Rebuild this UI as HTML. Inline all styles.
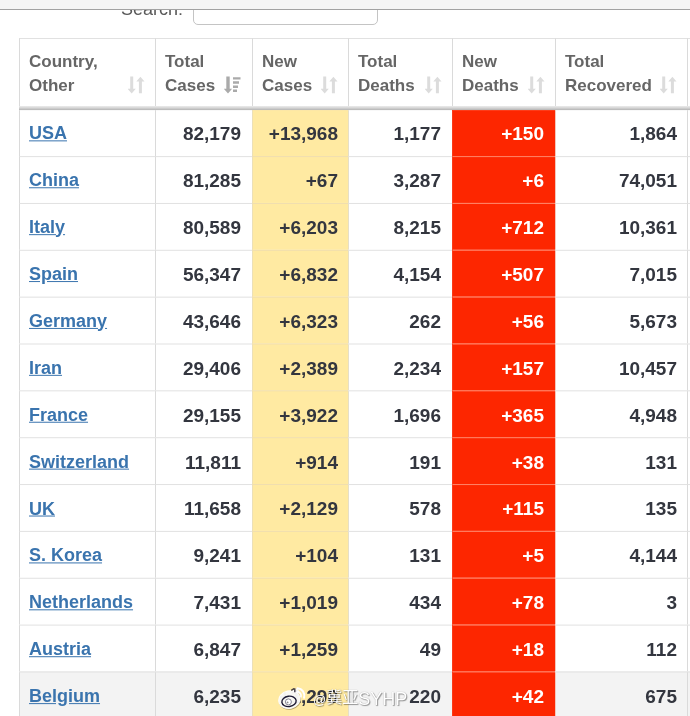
<!DOCTYPE html>
<html><head><meta charset="utf-8">
<style>
html,body{margin:0;padding:0;background:#fff;}
body{width:690px;height:716px;overflow:hidden;position:relative;font-family:"Liberation Sans","Noto Sans CJK SC",sans-serif;}
.topbar{position:absolute;left:0;top:0;width:690px;height:9px;background:#f5f5f5;border-bottom:1px solid #a2a2a2;}
.search{position:absolute;left:121px;top:-2px;font-size:18px;color:#595959;line-height:22px;}
.sbox{position:absolute;left:193px;top:-10px;width:183px;height:33px;border:1px solid #c4c4c4;border-radius:5px;background:#fff;}
table{position:absolute;left:19px;top:38px;border-collapse:separate;border-spacing:0;table-layout:fixed;width:689px;}
tbody{transform:translateY(0.25px) scaleY(0.99681);transform-origin:0 0;}
th,td{border:0 solid #dadada;border-top-color:#e1e1e1;border-width:1px 0 0 1px;box-sizing:border-box;overflow:hidden;white-space:nowrap;}
th{height:71px;text-align:left;vertical-align:top;color:#666;font-size:17px;font-weight:bold;line-height:24px;padding:11px 0 0 9px;border-bottom:none;position:relative;}
td{height:47px;font-size:19px;font-weight:bold;color:#33363f;text-align:right;padding:0 11px 0 0;}
td.l{padding-right:10px;}
td span,td a{display:inline-block;}
td.c{text-align:left;padding:0 0 0 9px;font-size:18px;}
td.c a{color:#3a74ae;text-decoration:underline;}
td.y{padding-right:10px;background:#ffeaa2;border-top-color:#f0deb0;border-left-color:#ece0b8;}
td.y+td{border-left-color:#e6dfc8;}
td.r{background:#fd2600;color:#fff;border-top-color:#ff8468;border-left-color:#fb3a18;}
td.r+td{border-left-color:#f3c6bb;}
tr.s td{height:46px;}
tr.g td{background:#f3f3f3;}
tr.g td.y{padding-right:10px;background:#ffeaa2;border-top-color:#f0deb0;border-left-color:#ece0b8;}
td.y+td{border-left-color:#e6dfc8;}
tr.g td.r{background:#fd2600;}
.si{position:absolute;right:10px;top:37px;}
.sa{right:11px;}
th span{display:inline-block;}
.hb{position:absolute;left:19px;top:106px;width:671px;height:4px;background:linear-gradient(#ebebeb,#d4d4d4 50%,#b4b4b4);}
.wbw{position:absolute;left:277px;top:686px;width:32px;height:26px;}
.wm{position:absolute;left:313px;top:687px;font-size:18px;line-height:24px;color:#fff;text-shadow:1px 1px 1px rgba(0,0,0,.38),0 0 1px rgba(0,0,0,.35);white-space:nowrap;}
.wm .a{font-size:13px;position:relative;top:-1px;}
.wm .k{font-size:16px;position:relative;top:-2px;}
</style></head><body>
<div class="search">Search:</div>
<div class="sbox"></div>
<div class="topbar"></div>
<table>
<colgroup><col style="width:136px"><col style="width:97px"><col style="width:96px"><col style="width:104px"><col style="width:103px"><col style="width:132px"><col style="width:21px"></colgroup>
<thead><tr><th><span>Country,<br>Other</span><svg class="si" width="17" height="18" viewBox="0 0 17 18"><path d="M2.2 0.5h3v12.3h2.6L3.7 17.6 -0.4 12.8h2.6z M10.9 17.3h3V5.6h2.6L12.4 0.8 8.3 5.6h2.6z" fill="#dcdcdc"/></svg></th><th><span>Total<br>Cases</span><svg class="si sa" width="17" height="18" viewBox="0 0 17 18"><path d="M2.3 0.6h3.4v12.2h2.4L4 17.6 -0.1 12.8h2.4z M9 1.2h7.5v2.4H9z M9 5.2h6v2.5H9z M9 9.5h5v2.4H9z M9 13.6h4v2.5H9z" fill="#aaa"/></svg></th><th><span>New<br>Cases</span><svg class="si" width="17" height="18" viewBox="0 0 17 18"><path d="M2.2 0.5h3v12.3h2.6L3.7 17.6 -0.4 12.8h2.6z M10.9 17.3h3V5.6h2.6L12.4 0.8 8.3 5.6h2.6z" fill="#dcdcdc"/></svg></th><th><span>Total<br>Deaths</span><svg class="si" width="17" height="18" viewBox="0 0 17 18"><path d="M2.2 0.5h3v12.3h2.6L3.7 17.6 -0.4 12.8h2.6z M10.9 17.3h3V5.6h2.6L12.4 0.8 8.3 5.6h2.6z" fill="#dcdcdc"/></svg></th><th><span>New<br>Deaths</span><svg class="si" width="17" height="18" viewBox="0 0 17 18"><path d="M2.2 0.5h3v12.3h2.6L3.7 17.6 -0.4 12.8h2.6z M10.9 17.3h3V5.6h2.6L12.4 0.8 8.3 5.6h2.6z" fill="#dcdcdc"/></svg></th><th><span>Total<br>Recovered</span><svg class="si" width="17" height="18" viewBox="0 0 17 18"><path d="M2.2 0.5h3v12.3h2.6L3.7 17.6 -0.4 12.8h2.6z M10.9 17.3h3V5.6h2.6L12.4 0.8 8.3 5.6h2.6z" fill="#dcdcdc"/></svg></th><th></th></tr></thead>
<tbody>
<tr><td class="c"><a style="transform:translateY(0.21px)">USA</a></td><td><span style="transform:translateY(0.70px)">82,179</span></td><td class="y"><span style="transform:translateY(0.70px)">+13,968</span></td><td><span style="transform:translateY(0.70px)">1,177</span></td><td class="r"><span style="transform:translateY(0.70px)">+150</span></td><td class="l"><span style="transform:translateY(0.70px)">1,864</span></td><td></td></tr>
<tr><td class="c"><a style="transform:translateY(0.26px)">China</a></td><td><span style="transform:translateY(0.80px)">81,285</span></td><td class="y"><span style="transform:translateY(0.80px)">+67</span></td><td><span style="transform:translateY(0.80px)">3,287</span></td><td class="r"><span style="transform:translateY(0.80px)">+6</span></td><td class="l"><span style="transform:translateY(0.80px)">74,051</span></td><td></td></tr>
<tr><td class="c"><a style="transform:translateY(0.30px)">Italy</a></td><td><span style="transform:translateY(0.90px)">80,589</span></td><td class="y"><span style="transform:translateY(0.90px)">+6,203</span></td><td><span style="transform:translateY(0.90px)">8,215</span></td><td class="r"><span style="transform:translateY(0.90px)">+712</span></td><td class="l"><span style="transform:translateY(0.90px)">10,361</span></td><td></td></tr>
<tr><td class="c"><a style="transform:translateY(0.35px)">Spain</a></td><td><span style="transform:translateY(1.00px)">56,347</span></td><td class="y"><span style="transform:translateY(1.00px)">+6,832</span></td><td><span style="transform:translateY(1.00px)">4,154</span></td><td class="r"><span style="transform:translateY(1.00px)">+507</span></td><td class="l"><span style="transform:translateY(1.00px)">7,015</span></td><td></td></tr>
<tr><td class="c"><a style="transform:translateY(0.39px)">Germany</a></td><td><span style="transform:translateY(1.10px)">43,646</span></td><td class="y"><span style="transform:translateY(1.10px)">+6,323</span></td><td><span style="transform:translateY(1.10px)">262</span></td><td class="r"><span style="transform:translateY(1.10px)">+56</span></td><td class="l"><span style="transform:translateY(1.10px)">5,673</span></td><td></td></tr>
<tr><td class="c"><a style="transform:translateY(0.44px)">Iran</a></td><td><span style="transform:translateY(1.20px)">29,406</span></td><td class="y"><span style="transform:translateY(1.20px)">+2,389</span></td><td><span style="transform:translateY(1.20px)">2,234</span></td><td class="r"><span style="transform:translateY(1.20px)">+157</span></td><td class="l"><span style="transform:translateY(1.20px)">10,457</span></td><td></td></tr>
<tr><td class="c"><a style="transform:translateY(0.49px)">France</a></td><td><span style="transform:translateY(1.30px)">29,155</span></td><td class="y"><span style="transform:translateY(1.30px)">+3,922</span></td><td><span style="transform:translateY(1.30px)">1,696</span></td><td class="r"><span style="transform:translateY(1.30px)">+365</span></td><td class="l"><span style="transform:translateY(1.30px)">4,948</span></td><td></td></tr>
<tr><td class="c"><a style="transform:translateY(0.53px)">Switzerland</a></td><td><span style="transform:translateY(1.40px)">11,811</span></td><td class="y"><span style="transform:translateY(1.40px)">+914</span></td><td><span style="transform:translateY(1.40px)">191</span></td><td class="r"><span style="transform:translateY(1.40px)">+38</span></td><td class="l"><span style="transform:translateY(1.40px)">131</span></td><td></td></tr>
<tr><td class="c"><a style="transform:translateY(0.58px)">UK</a></td><td><span style="transform:translateY(1.50px)">11,658</span></td><td class="y"><span style="transform:translateY(1.50px)">+2,129</span></td><td><span style="transform:translateY(1.50px)">578</span></td><td class="r"><span style="transform:translateY(1.50px)">+115</span></td><td class="l"><span style="transform:translateY(1.50px)">135</span></td><td></td></tr>
<tr><td class="c"><a style="transform:translateY(0.62px)">S. Korea</a></td><td><span style="transform:translateY(1.60px)">9,241</span></td><td class="y"><span style="transform:translateY(1.60px)">+104</span></td><td><span style="transform:translateY(1.60px)">131</span></td><td class="r"><span style="transform:translateY(1.60px)">+5</span></td><td class="l"><span style="transform:translateY(1.60px)">4,144</span></td><td></td></tr>
<tr><td class="c"><a style="transform:translateY(0.67px)">Netherlands</a></td><td><span style="transform:translateY(1.70px)">7,431</span></td><td class="y"><span style="transform:translateY(1.70px)">+1,019</span></td><td><span style="transform:translateY(1.70px)">434</span></td><td class="r"><span style="transform:translateY(1.70px)">+78</span></td><td class="l"><span style="transform:translateY(1.70px)">3</span></td><td></td></tr>
<tr><td class="c"><a style="transform:translateY(0.71px)">Austria</a></td><td><span style="transform:translateY(1.80px)">6,847</span></td><td class="y"><span style="transform:translateY(1.80px)">+1,259</span></td><td><span style="transform:translateY(1.80px)">49</span></td><td class="r"><span style="transform:translateY(1.80px)">+18</span></td><td class="l"><span style="transform:translateY(1.80px)">112</span></td><td></td></tr>
<tr class="g"><td class="c"><a style="transform:translateY(0.76px)">Belgium</a></td><td><span style="transform:translateY(1.90px)">6,235</span></td><td class="y"><span style="transform:translateY(1.90px)">+1,298</span></td><td><span style="transform:translateY(1.90px)">220</span></td><td class="r"><span style="transform:translateY(1.90px)">+42</span></td><td class="l"><span style="transform:translateY(1.90px)">675</span></td><td></td></tr>
</tbody></table>
<div class="hb"></div>
<div class="wbw"><svg class="wb" width="32" height="26" viewBox="0 0 32 26">
<g transform="translate(0.6,0.7)" opacity=".55"><ellipse cx="12.4" cy="13.6" rx="11.3" ry="9.3" transform="rotate(-12 12.4 13.6)" fill="#7a6a3a"/></g>
<ellipse cx="12.4" cy="13.6" rx="11.3" ry="9.3" transform="rotate(-12 12.4 13.6)" fill="#fff" fill-opacity=".93"/>
<path d="M15 5.2c2.2-2.6 5.4-3 6.4-1.4 0.8 1.3 0.2 2.8-0.2 3.9" fill="#fff" fill-opacity=".9"/>
<path d="M20.5 2.2a7.6 7.6 0 0 1 6.6 9.6" fill="none" stroke="#fff" stroke-width="2.1" stroke-linecap="round"/>
<path d="M20.6 5.6a4.1 4.1 0 0 1 3.3 5.2" fill="none" stroke="#fff" stroke-width="1.7" stroke-linecap="round"/>
<ellipse cx="12" cy="15.4" rx="7.2" ry="5.2" transform="rotate(-8 12 15.4)" fill="none" stroke="#1d1a33" stroke-width="1.4"/>
<circle cx="11.4" cy="15.9" r="3" fill="#fff" stroke="#55556a" stroke-width=".7"/>
<circle cx="10.6" cy="16.4" r=".9" fill="#8a8a8a"/>
<path d="M14.2 4.4l2.6-1.5 1 .2v3.2" fill="none" stroke="#2a2430" stroke-width="1.5" opacity=".85"/>
</svg></div>
<div class="wm"><span class="a">@</span><span class="k">冀亚</span>SYHP</div>
</body></html>
